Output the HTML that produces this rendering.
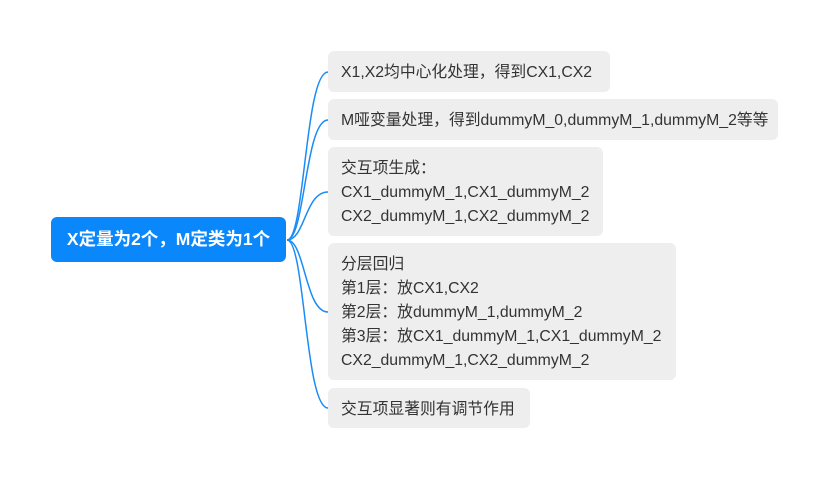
<!DOCTYPE html>
<html><head><meta charset="utf-8"><style>
body{margin:0;width:830px;height:480px;background:#fff;position:relative;overflow:hidden;font-family:"Liberation Sans","Noto Sans CJK SC",sans-serif;}
.root{position:absolute;left:51px;top:217px;width:235px;height:45px;background:#0a88fb;border-radius:6px;color:#fff;font-size:17.5px;font-weight:bold;line-height:45px;text-align:center;white-space:nowrap;}
.b{position:absolute;left:328px;background:#eeeeee;border-radius:6px;color:#333;font-size:15.8px;line-height:24px;padding:0 13px;box-sizing:border-box;white-space:nowrap;}
svg{position:absolute;left:0;top:0;}
</style></head><body>
<svg width="830" height="480"><g fill="none" stroke="#1a8cf5" stroke-width="1.5">
<path d="M287 240 C305 240,305 72,328 72"/>
<path d="M287 240 C305 240,305 120,328 120"/>
<path d="M287 240 C305 240,305 192,328 192"/>
<path d="M287 240 C305 240,305 312,328 312"/>
<path d="M287 240 C305 240,305 408,328 408"/>
</g></svg>
<div class="root">X定量为2个，M定类为1个</div>
<div class="b" style="top:51px;width:282px;height:41px;padding-top:10px">X1,X2均中心化处理，得到CX1,CX2</div>
<div class="b" style="top:99px;width:450px;height:41px;padding-top:10px">M哑变量处理，得到dummyM_0,dummyM_1,dummyM_2等等</div>
<div class="b" style="top:147px;width:275px;height:89px;padding-top:10px">交互项生成：<br>CX1_dummyM_1,CX1_dummyM_2<br>CX2_dummyM_1,CX2_dummyM_2</div>
<div class="b" style="top:243px;width:348px;height:137px;padding-top:10px">分层回归<br>第1层：放CX1,CX2<br>第2层：放dummyM_1,dummyM_2<br>第3层：放CX1_dummyM_1,CX1_dummyM_2<br>CX2_dummyM_1,CX2_dummyM_2</div>
<div class="b" style="top:388px;width:202px;height:40px;padding-top:10px">交互项显著则有调节作用</div>
</body></html>
